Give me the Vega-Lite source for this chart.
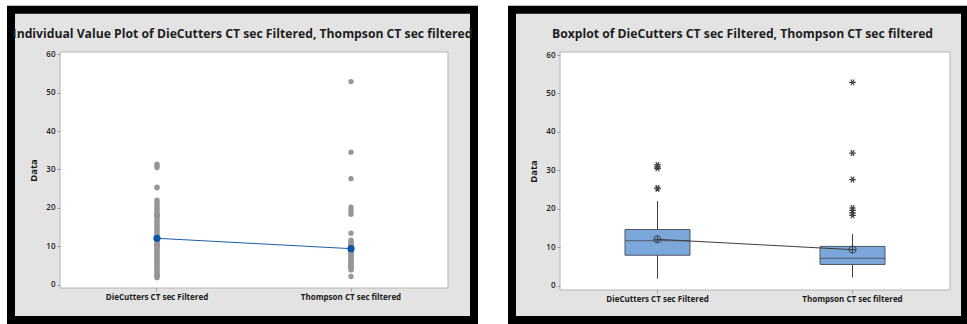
{
  "$schema": "https://vega.github.io/schema/vega-lite/v6.json",
  "autosize": {"type": "pad"},
  "padding": {"left": 6, "top": 5, "right": 0, "bottom": 0},
  "background": "white",
  "spacing": 112,
  "bounds": "flush",
  "datasets": {
    "points": [
      {"series": "DieCutters CT sec Filtered", "value": 1.8},
      {"series": "DieCutters CT sec Filtered", "value": 2.1},
      {"series": "DieCutters CT sec Filtered", "value": 2.4},
      {"series": "DieCutters CT sec Filtered", "value": 2.7},
      {"series": "DieCutters CT sec Filtered", "value": 3.0},
      {"series": "DieCutters CT sec Filtered", "value": 3.4},
      {"series": "DieCutters CT sec Filtered", "value": 3.8},
      {"series": "DieCutters CT sec Filtered", "value": 4.2},
      {"series": "DieCutters CT sec Filtered", "value": 4.6},
      {"series": "DieCutters CT sec Filtered", "value": 5.0},
      {"series": "DieCutters CT sec Filtered", "value": 5.4},
      {"series": "DieCutters CT sec Filtered", "value": 5.8},
      {"series": "DieCutters CT sec Filtered", "value": 6.2},
      {"series": "DieCutters CT sec Filtered", "value": 6.6},
      {"series": "DieCutters CT sec Filtered", "value": 7.0},
      {"series": "DieCutters CT sec Filtered", "value": 7.4},
      {"series": "DieCutters CT sec Filtered", "value": 7.8},
      {"series": "DieCutters CT sec Filtered", "value": 8.0},
      {"series": "DieCutters CT sec Filtered", "value": 8.2},
      {"series": "DieCutters CT sec Filtered", "value": 8.6},
      {"series": "DieCutters CT sec Filtered", "value": 9.0},
      {"series": "DieCutters CT sec Filtered", "value": 9.4},
      {"series": "DieCutters CT sec Filtered", "value": 9.8},
      {"series": "DieCutters CT sec Filtered", "value": 10.2},
      {"series": "DieCutters CT sec Filtered", "value": 10.3},
      {"series": "DieCutters CT sec Filtered", "value": 10.3},
      {"series": "DieCutters CT sec Filtered", "value": 10.3},
      {"series": "DieCutters CT sec Filtered", "value": 10.4},
      {"series": "DieCutters CT sec Filtered", "value": 10.8},
      {"series": "DieCutters CT sec Filtered", "value": 11.2},
      {"series": "DieCutters CT sec Filtered", "value": 11.6},
      {"series": "DieCutters CT sec Filtered", "value": 11.8},
      {"series": "DieCutters CT sec Filtered", "value": 12.0},
      {"series": "DieCutters CT sec Filtered", "value": 12.4},
      {"series": "DieCutters CT sec Filtered", "value": 12.8},
      {"series": "DieCutters CT sec Filtered", "value": 13.2},
      {"series": "DieCutters CT sec Filtered", "value": 13.6},
      {"series": "DieCutters CT sec Filtered", "value": 14.0},
      {"series": "DieCutters CT sec Filtered", "value": 14.4},
      {"series": "DieCutters CT sec Filtered", "value": 14.7},
      {"series": "DieCutters CT sec Filtered", "value": 15.1},
      {"series": "DieCutters CT sec Filtered", "value": 15.6},
      {"series": "DieCutters CT sec Filtered", "value": 16.1},
      {"series": "DieCutters CT sec Filtered", "value": 16.6},
      {"series": "DieCutters CT sec Filtered", "value": 17.1},
      {"series": "DieCutters CT sec Filtered", "value": 17.6},
      {"series": "DieCutters CT sec Filtered", "value": 18.0},
      {"series": "DieCutters CT sec Filtered", "value": 18.0},
      {"series": "DieCutters CT sec Filtered", "value": 18.0},
      {"series": "DieCutters CT sec Filtered", "value": 18.1},
      {"series": "DieCutters CT sec Filtered", "value": 18.5},
      {"series": "DieCutters CT sec Filtered", "value": 19.0},
      {"series": "DieCutters CT sec Filtered", "value": 19.5},
      {"series": "DieCutters CT sec Filtered", "value": 20.0},
      {"series": "DieCutters CT sec Filtered", "value": 20.5},
      {"series": "DieCutters CT sec Filtered", "value": 21.0},
      {"series": "DieCutters CT sec Filtered", "value": 21.5},
      {"series": "DieCutters CT sec Filtered", "value": 22.0},
      {"series": "DieCutters CT sec Filtered", "value": 25.2},
      {"series": "DieCutters CT sec Filtered", "value": 25.4},
      {"series": "DieCutters CT sec Filtered", "value": 30.5},
      {"series": "DieCutters CT sec Filtered", "value": 30.9},
      {"series": "DieCutters CT sec Filtered", "value": 31.4},
      {"series": "Thompson CT sec filtered", "value": 2.1},
      {"series": "Thompson CT sec filtered", "value": 3.8},
      {"series": "Thompson CT sec filtered", "value": 4.1},
      {"series": "Thompson CT sec filtered", "value": 4.4},
      {"series": "Thompson CT sec filtered", "value": 4.7},
      {"series": "Thompson CT sec filtered", "value": 5.0},
      {"series": "Thompson CT sec filtered", "value": 5.3},
      {"series": "Thompson CT sec filtered", "value": 5.6},
      {"series": "Thompson CT sec filtered", "value": 5.9},
      {"series": "Thompson CT sec filtered", "value": 6.2},
      {"series": "Thompson CT sec filtered", "value": 6.5},
      {"series": "Thompson CT sec filtered", "value": 6.8},
      {"series": "Thompson CT sec filtered", "value": 7.1},
      {"series": "Thompson CT sec filtered", "value": 7.3},
      {"series": "Thompson CT sec filtered", "value": 7.6},
      {"series": "Thompson CT sec filtered", "value": 7.9},
      {"series": "Thompson CT sec filtered", "value": 8.2},
      {"series": "Thompson CT sec filtered", "value": 8.5},
      {"series": "Thompson CT sec filtered", "value": 8.8},
      {"series": "Thompson CT sec filtered", "value": 9.1},
      {"series": "Thompson CT sec filtered", "value": 9.4},
      {"series": "Thompson CT sec filtered", "value": 9.7},
      {"series": "Thompson CT sec filtered", "value": 10.0},
      {"series": "Thompson CT sec filtered", "value": 10.3},
      {"series": "Thompson CT sec filtered", "value": 10.6},
      {"series": "Thompson CT sec filtered", "value": 10.9},
      {"series": "Thompson CT sec filtered", "value": 11.2},
      {"series": "Thompson CT sec filtered", "value": 11.6},
      {"series": "Thompson CT sec filtered", "value": 13.4},
      {"series": "Thompson CT sec filtered", "value": 18.3},
      {"series": "Thompson CT sec filtered", "value": 18.9},
      {"series": "Thompson CT sec filtered", "value": 19.6},
      {"series": "Thompson CT sec filtered", "value": 20.2},
      {"series": "Thompson CT sec filtered", "value": 27.6},
      {"series": "Thompson CT sec filtered", "value": 34.5},
      {"series": "Thompson CT sec filtered", "value": 52.9}
    ],
    "summary": [
      {"series": "DieCutters CT sec Filtered", "lower": 1.8, "q1": 7.9, "median": 11.7, "q3": 14.6, "upper": 22.0, "mean": 12.05},
      {"series": "Thompson CT sec filtered", "lower": 2.1, "q1": 5.5, "median": 7.1, "q3": 10.2, "upper": 13.4, "mean": 9.35}
    ],
    "frame": [{"part": "frame"}]
  },
  "config": {
    "view": {"stroke": null},
    "font": "Open Sans",
    "axis": {
      "grid": false,
      "domain": false,
      "tickColor": "#9a9a9a",
      "tickSize": 3,
      "labelColor": "#1a1a1a",
      "labelFont": "Open Sans",
      "titleFont": "Open Sans",
      "titleColor": "#1a1a1a"
    },
    "axisY": {"tickCount": 7, "labelOverlap": false, "labelSeparation": 0, "labelFlush": false}
  },
  "hconcat": [
    {
      "width": 388,
      "height": 236,
      "title": {"text": "Individual Value Plot of DieCutters CT sec Filtered, Thompson CT sec filtered", "frame": "bounds", "anchor": "middle", "dx": 0, "offset": -44, "baseline": "alphabetic", "fontSize": 12.2, "fontWeight": "bold", "color": "#1e1e1e", "font": "Open Sans", "zindex": 1},
      "resolve": {"scale": {"x": "independent", "y": "independent"}},
      "layer": [
        {
          "data": {"name": "frame"},
          "layer": [
            {
              "mark": {"type": "rect", "fill": "#e3e3e3", "stroke": "#000000", "strokeWidth": 8},
              "encoding": {
                "x": {"datum": -0.1263, "type": "quantitative", "scale": {"domain": [0, 1], "nice": false, "zero": false}, "axis": null},
                "x2": {"datum": 1.067},
                "y": {"datum": 1.1788, "type": "quantitative", "scale": {"domain": [0, 1], "nice": false, "zero": false}, "axis": null},
                "y2": {"datum": -0.1356}
              }
            },
            {
              "mark": {"type": "rect", "fill": "#ffffff", "stroke": "#b4b4b4", "strokeWidth": 1},
              "encoding": {
                "x": {"datum": 0, "type": "quantitative"},
                "x2": {"datum": 1},
                "y": {"datum": 0, "type": "quantitative"},
                "y2": {"datum": 1}
              }
            }
          ]
        },
        {
          "encoding": {
            "x": {"field": "series", "type": "nominal", "sort": null,
                  "scale": {"type": "band", "domain": ["DieCutters CT sec Filtered", "Thompson CT sec filtered"], "paddingInner": 0.6667, "paddingOuter": 0.3333},
                  "axis": {"title": null, "orient": "bottom", "zindex": 2, "labelAngle": 0, "labelFontSize": 8, "labelFontWeight": "bold", "labelPadding": 2}}
          },
          "layer": [
            {
              "data": {"name": "points"},
              "mark": {"type": "point", "filled": true, "color": "#969696", "size": 28, "opacity": 1},
              "encoding": {
                "y": {"field": "value", "type": "quantitative",
                      "scale": {"domain": [-0.9, 60.6], "nice": false, "zero": false},
                      "axis": {"title": "Data", "orient": "left", "zindex": 2, "values": [0, 10, 20, 30, 40, 50, 60], "labelOverlap": false, "labelFontSize": 8, "labelFontWeight": 600, "labelPadding": 2, "titleFontSize": 9.5, "titleFontWeight": "bold", "titlePadding": 7}}
              }
            },
            {
              "data": {"name": "summary"},
              "mark": {"type": "line", "color": "#1d5ea9", "strokeWidth": 1},
              "encoding": {
                "y": {"field": "mean", "type": "quantitative"}
              }
            },
            {
              "data": {"name": "summary"},
              "mark": {"type": "point", "filled": true, "color": "#0a55a6", "size": 52, "opacity": 1},
              "encoding": {
                "y": {"field": "mean", "type": "quantitative"}
              }
            }
          ]
        }
      ]
    },
    {
      "width": 390,
      "height": 238,
      "title": {"text": "Boxplot of DieCutters CT sec Filtered, Thompson CT sec filtered", "frame": "bounds", "anchor": "middle", "dx": 4, "offset": -44, "baseline": "alphabetic", "fontSize": 12.2, "fontWeight": "bold", "color": "#1e1e1e", "font": "Open Sans", "zindex": 1},
      "resolve": {"scale": {"x": "independent", "y": "independent"}},
      "layer": [
        {
          "data": {"name": "frame"},
          "layer": [
            {
              "mark": {"type": "rect", "fill": "#e3e3e3", "stroke": "#000000", "strokeWidth": 8},
              "encoding": {
                "x": {"datum": -0.1231, "type": "quantitative", "scale": {"domain": [0, 1], "nice": false, "zero": false}, "axis": null},
                "x2": {"datum": 1.0385},
                "y": {"datum": 1.1773, "type": "quantitative", "scale": {"domain": [0, 1], "nice": false, "zero": false}, "axis": null},
                "y2": {"datum": -0.126}
              }
            },
            {
              "mark": {"type": "rect", "fill": "#ffffff", "stroke": "#b4b4b4", "strokeWidth": 1},
              "encoding": {
                "x": {"datum": 0, "type": "quantitative"},
                "x2": {"datum": 1},
                "y": {"datum": 0, "type": "quantitative"},
                "y2": {"datum": 1}
              }
            }
          ]
        },
        {
          "data": {"name": "summary"},
          "encoding": {
            "x": {"field": "series", "type": "nominal", "sort": null,
                  "scale": {"type": "band", "domain": ["DieCutters CT sec Filtered", "Thompson CT sec filtered"], "paddingInner": 0.6667, "paddingOuter": 0.3333},
                  "axis": {"title": null, "orient": "bottom", "zindex": 2, "labelAngle": 0, "labelFontSize": 8, "labelFontWeight": "bold", "labelPadding": 2}}
          },
          "layer": [
            {
              "mark": {"type": "rule", "color": "#404040", "strokeWidth": 1},
              "encoding": {
                "y": {"field": "lower", "type": "quantitative",
                      "scale": {"domain": [-1.15, 60.8], "nice": false, "zero": false},
                      "axis": {"title": "Data", "orient": "left", "zindex": 2, "values": [0, 10, 20, 30, 40, 50, 60], "labelOverlap": false, "labelFontSize": 8, "labelFontWeight": 600, "labelPadding": 2, "titleFontSize": 9.5, "titleFontWeight": "bold", "titlePadding": 7}},
                "y2": {"field": "upper"}
              }
            },
            {
              "mark": {"type": "bar", "fill": "#7ba7da", "stroke": "#4f5560", "strokeWidth": 1},
              "encoding": {
                "y": {"field": "q1", "type": "quantitative"},
                "y2": {"field": "q3"}
              }
            },
            {
              "mark": {"type": "tick", "color": "#3c3c3c", "thickness": 1, "size": 65, "orient": "horizontal"},
              "encoding": {
                "y": {"field": "median", "type": "quantitative"}
              }
            },
            {
              "mark": {"type": "line", "color": "#3c3c3c", "strokeWidth": 1},
              "encoding": {
                "y": {"field": "mean", "type": "quantitative"}
              }
            },
            {
              "mark": {"type": "point", "shape": "M-1,0A1,1,0,1,1,1,0A1,1,0,1,1,-1,0ZM-1,0L1,0M0,-1L0,1", "filled": false, "stroke": "#3c3c3c", "strokeWidth": 1, "size": 50, "opacity": 1},
              "encoding": {
                "y": {"field": "mean", "type": "quantitative"}
              }
            },
            {
              "data": {"name": "points"},
              "transform": [
                {"lookup": "series", "from": {"data": {"name": "summary"}, "key": "series", "fields": ["lower", "upper"]}},
                {"filter": "datum.value > datum.upper || datum.value < datum.lower"}
              ],
              "mark": {"type": "point", "shape": "M-1,0L1,0M-0.5,-0.87L0.5,0.87M-0.5,0.87L0.5,-0.87", "filled": false, "stroke": "#444444", "strokeWidth": 1.2, "size": 45, "opacity": 1},
              "encoding": {
                "y": {"field": "value", "type": "quantitative"}
              }
            }
          ]
        }
      ]
    }
  ]
}
